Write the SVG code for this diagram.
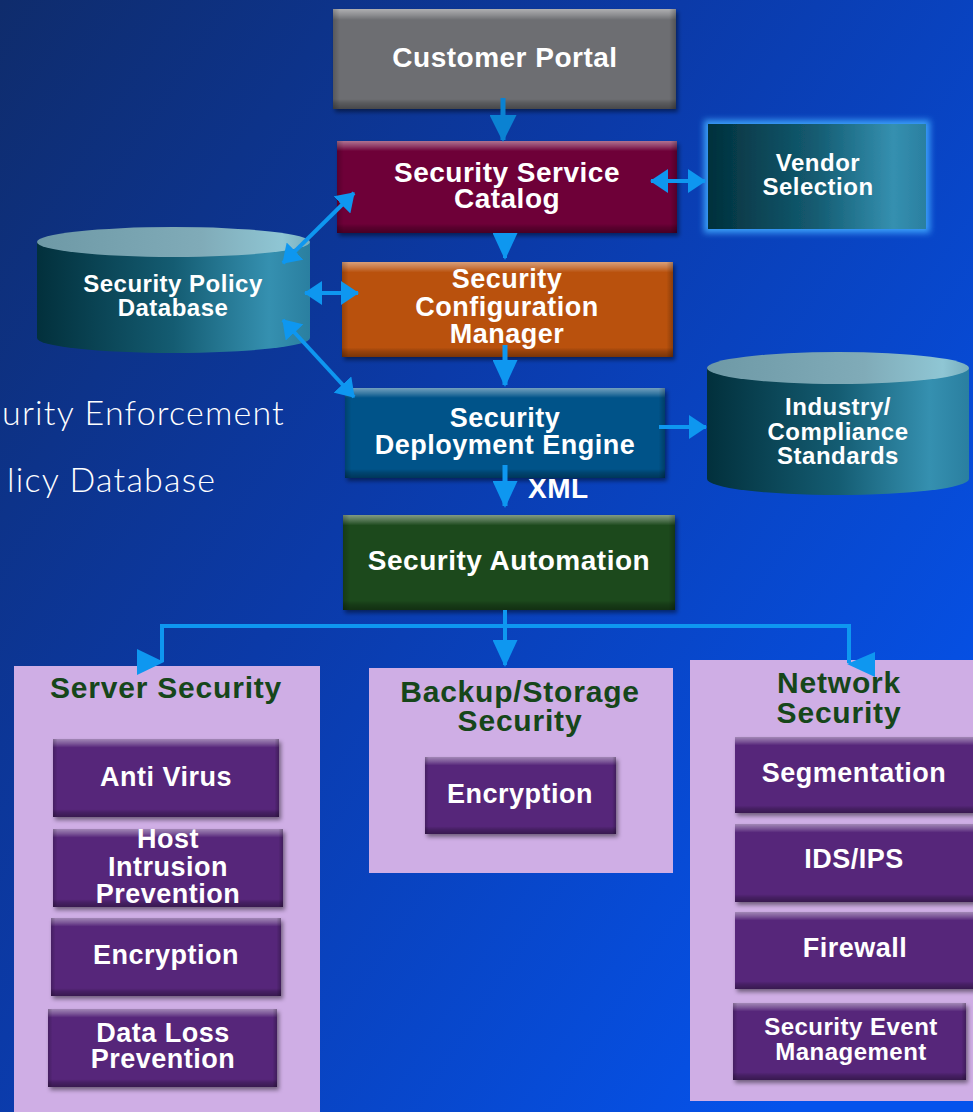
<svg xmlns="http://www.w3.org/2000/svg" width="973" height="1112" viewBox="0 0 973 1112">
  <defs>
    <linearGradient id="bg" x1="0" y1="0" x2="1" y2="0.75">
      <stop offset="0" stop-color="#0f2c6c"/>
      <stop offset="0.45" stop-color="#0b3aa8"/>
      <stop offset="1" stop-color="#0553ec"/>
    </linearGradient>
    <!-- bevel overlay: lit top band, darker bottom rim -->
    <linearGradient id="bevel" x1="0" y1="0" x2="0" y2="1">
      <stop offset="0" stop-color="#ffffff" stop-opacity="0.45"/>
      <stop offset="0.06" stop-color="#ffffff" stop-opacity="0.22"/>
      <stop offset="0.11" stop-color="#ffffff" stop-opacity="0"/>
      <stop offset="0.9" stop-color="#000000" stop-opacity="0"/>
      <stop offset="0.94" stop-color="#000000" stop-opacity="0.18"/>
      <stop offset="1" stop-color="#000000" stop-opacity="0.35"/>
    </linearGradient>
    <linearGradient id="bevelSide" x1="0" y1="0" x2="1" y2="0">
      <stop offset="0" stop-color="#000000" stop-opacity="0.2"/>
      <stop offset="0.02" stop-color="#000000" stop-opacity="0"/>
      <stop offset="0.98" stop-color="#000000" stop-opacity="0"/>
      <stop offset="1" stop-color="#000000" stop-opacity="0.25"/>
    </linearGradient>
    <linearGradient id="teal" x1="0" y1="0" x2="1" y2="0">
      <stop offset="0" stop-color="#02303c"/>
      <stop offset="0.5" stop-color="#145c72"/>
      <stop offset="0.85" stop-color="#3590b0"/>
      <stop offset="1" stop-color="#2a7fa0"/>
    </linearGradient>
    <linearGradient id="cylTop" x1="0" y1="0" x2="1" y2="0">
      <stop offset="0" stop-color="#6e99a6"/>
      <stop offset="0.6" stop-color="#80abb8"/>
      <stop offset="0.9" stop-color="#8fc6d4"/>
      <stop offset="1" stop-color="#78aebd"/>
    </linearGradient>
    <filter id="shadow" x="-10%" y="-10%" width="125%" height="130%">
      <feDropShadow dx="2" dy="3" stdDeviation="2" flood-color="#000000" flood-opacity="0.45"/>
    </filter>
    <filter id="glow" x="-15%" y="-20%" width="130%" height="140%">
      <feMorphology in="SourceAlpha" operator="dilate" radius="4" result="d"/>
      <feGaussianBlur in="d" stdDeviation="3" result="b"/>
      <feFlood flood-color="#3fa8ff" flood-opacity="0.9"/>
      <feComposite in2="b" operator="in" result="g"/>
      <feMerge><feMergeNode in="g"/><feMergeNode in="SourceGraphic"/></feMerge>
    </filter>
    <marker id="head" viewBox="0 0 27 25" refX="25" refY="12.5" markerWidth="27" markerHeight="25" markerUnits="userSpaceOnUse" orient="auto-start-reverse">
      <path d="M0,0 L27,12.5 L0,25 Z" fill="#0e97f0"/>
    </marker>
    <marker id="headDark" viewBox="0 0 27 27" refX="25" refY="13.5" markerWidth="27" markerHeight="27" markerUnits="userSpaceOnUse" orient="auto-start-reverse">
      <path d="M0,0 L27,13.5 L0,27 Z" fill="#0b82d2"/>
    </marker>
    <marker id="headS" viewBox="0 0 18 24" refX="17" refY="12" markerWidth="18" markerHeight="24" markerUnits="userSpaceOnUse" orient="auto-start-reverse">
      <path d="M0,0 L18,12 L0,24 Z" fill="#0e97f0"/>
    </marker>
    <style>
      .lbl { font-family: "Liberation Sans", Arial, sans-serif; font-weight: bold; fill: #ffffff; text-anchor: middle; letter-spacing: 0.5px; }
      .f28 { font-size: 28px; }
      .f27 { font-size: 27px; }
      .f24 { font-size: 24px; }
      .f23 { font-size: 23px; }
      .head { font-family: "Liberation Sans", Arial, sans-serif; font-weight: bold; fill: #16461a; text-anchor: middle; font-size: 30px; letter-spacing: 0.8px; }
      .side { font-family: Lato, "Open Sans", sans-serif; font-weight: 300; fill: #ffffff; font-size: 34px; letter-spacing: 1.2px; }
      .bev { fill: url(#bevel); }
      .bevs { fill: url(#bevelSide); }
      .btn { fill: #56287a; filter: url(#shadow); }
      .panel { fill: #cfaee5; }
      .wire { stroke: #0e97f0; fill: none; }
      .tip { fill: #0e97f0; }
    </style>
  </defs>

  <rect width="973" height="1112" fill="url(#bg)"/>

  <!-- side caption, partly off the left edge -->
  <text class="side" x="2" y="425">urity Enforcement</text>
  <text class="side" x="7" y="492">licy Database</text>

  <!-- group panels -->
  <g id="server-security">
    <rect class="panel" x="14" y="666" width="306" height="460"/>
    <text class="head" x="166" y="698">Server Security</text>
  </g>
  <g id="backup-storage-security">
    <rect class="panel" x="369" y="668" width="304" height="205"/>
    <text class="head" x="520" y="702">Backup/Storage</text>
    <text class="head" x="520" y="731">Security</text>
  </g>
  <g id="network-security">
    <rect class="panel" x="690" y="660" width="290" height="441"/>
    <text class="head" x="839" y="693">Network</text>
    <text class="head" x="839" y="723">Security</text>
  </g>

  <!-- main pipeline -->
  <g id="customer-portal">
    <rect x="333" y="9" width="343" height="100" fill="#6d6e72" filter="url(#shadow)"/>
    <rect class="bev" x="333" y="9" width="343" height="100"/>
    <rect class="bevs" x="333" y="9" width="343" height="100"/>
    <text class="lbl f28" x="505" y="67">Customer Portal</text>
  </g>
  <g id="security-service-catalog">
    <rect x="337" y="141" width="340" height="92" fill="#6e0238" filter="url(#shadow)"/>
    <rect class="bev" x="337" y="141" width="340" height="92"/>
    <rect class="bevs" x="337" y="141" width="340" height="92"/>
    <text class="lbl f28" x="507" y="182">Security Service</text>
    <text class="lbl f28" x="507" y="208">Catalog</text>
  </g>
  <g id="vendor-selection">
    <rect x="708" y="124" width="218" height="105" fill="url(#teal)" filter="url(#glow)"/>
    <text class="lbl f24" x="818" y="171">Vendor</text>
    <text class="lbl f24" x="818" y="195">Selection</text>
  </g>
  <g id="security-policy-database">
    <path d="M37,242 L37,338 A136.5,15 0 0 0 310,338 L310,242 Z" fill="url(#teal)"/>
    <ellipse cx="173.5" cy="242" rx="136.5" ry="15" fill="url(#cylTop)"/>
    <text class="lbl f24" x="173" y="292">Security Policy</text>
    <text class="lbl f24" x="173" y="316">Database</text>
  </g>
  <g id="security-configuration-manager">
    <rect x="342" y="262" width="331" height="95" fill="#b9510a" filter="url(#shadow)"/>
    <rect class="bev" x="342" y="262" width="331" height="95"/>
    <rect class="bevs" x="342" y="262" width="331" height="95"/>
    <text class="lbl f27" x="507" y="288">Security</text>
    <text class="lbl f27" x="507" y="316">Configuration</text>
    <text class="lbl f27" x="507" y="343">Manager</text>
  </g>
  <g id="security-deployment-engine">
    <rect x="345" y="388" width="320" height="90" fill="#065389" filter="url(#shadow)"/>
    <rect class="bev" x="345" y="388" width="320" height="90"/>
    <rect class="bevs" x="345" y="388" width="320" height="90"/>
    <text class="lbl f27" x="505" y="427">Security</text>
    <text class="lbl f27" x="505" y="454">Deployment Engine</text>
  </g>
  <g id="industry-compliance-standards">
    <path d="M707,368 L707,479 A131,16 0 0 0 969,479 L969,368 Z" fill="url(#teal)"/>
    <ellipse cx="838" cy="368" rx="131" ry="16" fill="url(#cylTop)"/>
    <text class="lbl f24" x="838" y="415">Industry/</text>
    <text class="lbl f24" x="838" y="440">Compliance</text>
    <text class="lbl f24" x="838" y="464">Standards</text>
  </g>
  <g id="security-automation">
    <rect x="343" y="515" width="332" height="95" fill="#1b4a1a" filter="url(#shadow)"/>
    <rect class="bev" x="343" y="515" width="332" height="95"/>
    <rect class="bevs" x="343" y="515" width="332" height="95"/>
    <text class="lbl f28" x="509" y="570">Security Automation</text>
  </g>

  <!-- server security items -->
  <g id="anti-virus">
    <rect class="btn" x="53" y="739" width="226" height="78"/>
    <rect class="bev" x="53" y="739" width="226" height="78"/>
    <rect class="bevs" x="53" y="739" width="226" height="78"/>
    <text class="lbl f27" x="166" y="786">Anti Virus</text>
  </g>
  <g id="host-intrusion-prevention">
    <rect class="btn" x="53" y="829" width="230" height="78"/>
    <rect class="bev" x="53" y="829" width="230" height="78"/>
    <rect class="bevs" x="53" y="829" width="230" height="78"/>
    <text class="lbl f27" x="168" y="848">Host</text>
    <text class="lbl f27" x="168" y="876">Intrusion</text>
    <text class="lbl f27" x="168" y="903">Prevention</text>
  </g>
  <g id="server-encryption">
    <rect class="btn" x="51" y="918" width="230" height="78"/>
    <rect class="bev" x="51" y="918" width="230" height="78"/>
    <rect class="bevs" x="51" y="918" width="230" height="78"/>
    <text class="lbl f27" x="166" y="964">Encryption</text>
  </g>
  <g id="data-loss-prevention">
    <rect class="btn" x="48" y="1009" width="229" height="78"/>
    <rect class="bev" x="48" y="1009" width="229" height="78"/>
    <rect class="bevs" x="48" y="1009" width="229" height="78"/>
    <text class="lbl f27" x="163" y="1042">Data Loss</text>
    <text class="lbl f27" x="163" y="1068">Prevention</text>
  </g>

  <!-- backup/storage item -->
  <g id="storage-encryption">
    <rect class="btn" x="425" y="757" width="191" height="77"/>
    <rect class="bev" x="425" y="757" width="191" height="77"/>
    <rect class="bevs" x="425" y="757" width="191" height="77"/>
    <text class="lbl f27" x="520" y="803">Encryption</text>
  </g>

  <!-- network security items -->
  <g id="segmentation">
    <rect class="btn" x="735" y="737" width="245" height="76"/>
    <rect class="bev" x="735" y="737" width="245" height="76"/>
    <text class="lbl f27" x="854" y="782">Segmentation</text>
  </g>
  <g id="ids-ips">
    <rect class="btn" x="735" y="824" width="245" height="78"/>
    <rect class="bev" x="735" y="824" width="245" height="78"/>
    <text class="lbl f27" x="854" y="868">IDS/IPS</text>
  </g>
  <g id="firewall">
    <rect class="btn" x="735" y="912" width="245" height="77"/>
    <rect class="bev" x="735" y="912" width="245" height="77"/>
    <text class="lbl f27" x="855" y="957">Firewall</text>
  </g>
  <g id="security-event-management">
    <rect class="btn" x="733" y="1003" width="233" height="77"/>
    <rect class="bev" x="733" y="1003" width="233" height="77"/>
    <rect class="bevs" x="733" y="1003" width="233" height="77"/>
    <text class="lbl f24" x="851" y="1035">Security Event</text>
    <text class="lbl f24" x="851" y="1060">Management</text>
  </g>

  <!-- connectors -->
  <g id="connectors">
    <line x1="503" y1="98" x2="503" y2="140" stroke="#0b82d2" stroke-width="5" marker-end="url(#headDark)"/>
    <line class="wire" x1="505" y1="234" x2="505" y2="258" stroke-width="4" marker-end="url(#head)"/>
    <line class="wire" x1="505" y1="345" x2="505" y2="385" stroke-width="5" marker-end="url(#head)"/>
    <line class="wire" x1="505" y1="465" x2="505" y2="506" stroke-width="5" marker-end="url(#head)"/>
    <line class="wire" x1="651" y1="181" x2="705" y2="181" stroke-width="4" marker-start="url(#headS)" marker-end="url(#headS)"/>
    <line class="wire" x1="283" y1="263" x2="354" y2="193" stroke-width="4" marker-start="url(#headS)" marker-end="url(#headS)"/>
    <line class="wire" x1="305" y1="293" x2="358" y2="293" stroke-width="4" marker-start="url(#headS)" marker-end="url(#headS)"/>
    <line class="wire" x1="283" y1="320" x2="354" y2="397" stroke-width="4" marker-start="url(#headS)" marker-end="url(#headS)"/>
    <line class="wire" x1="659" y1="427" x2="706" y2="427" stroke-width="4" marker-end="url(#headS)"/>
    <line class="wire" x1="505" y1="610" x2="505" y2="665" stroke-width="4" marker-end="url(#head)"/>
    <polyline class="wire" points="162,662 162,626 849,626 849,663" stroke-width="4"/>
    <polygon class="tip" points="137,649 164,662 137,675"/>
    <polygon class="tip" points="875,652 847,664 875,677"/>
    <text class="lbl f28" x="528" y="498" style="text-anchor:start">XML</text>
  </g>
</svg>
